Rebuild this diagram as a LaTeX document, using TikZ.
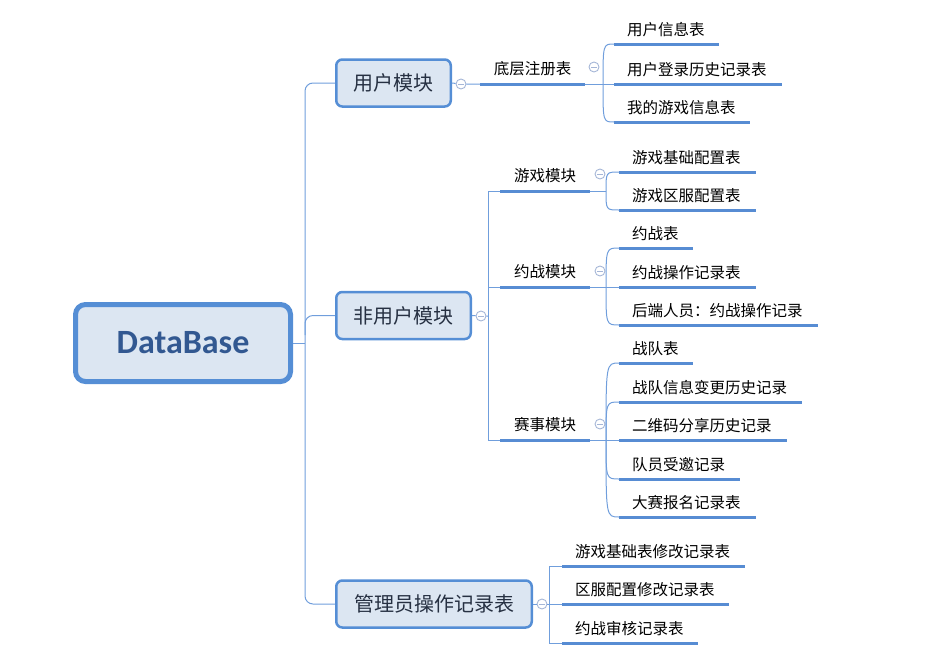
\documentclass[tikz,border=0pt]{standalone}
\usepackage{fontspec}
\setmainfont{Carlito}
\newfontfamily\cjk{Noto Sans CJK SC}
\usetikzlibrary{calc}
\definecolor{lineblue}{RGB}{112,158,220}
\definecolor{ulblue}{RGB}{87,140,211}
\definecolor{boxblue}{RGB}{85,142,213}
\definecolor{boxfill}{RGB}{220,230,242}
\definecolor{roottext}{RGB}{50,88,145}
\definecolor{ltext}{RGB}{38,48,66}
\definecolor{circ}{RGB}{165,182,215}
\tikzset{
  rootbox/.style={draw=boxblue, line width=5pt, fill=boxfill, rounded corners=10pt,
    minimum width=215pt, minimum height=77pt, inner sep=0pt,
    font=\fontsize{34}{40}\selectfont\bfseries, text=roottext},
  lonebox/.style={draw=boxblue, line width=2.5pt, fill=boxfill, rounded corners=6pt,
    inner sep=0pt, minimum height=47pt, font=\cjk\fontsize{20}{24}\selectfont, text=ltext},
  lab/.style={font=\cjk\fontsize{15.5}{18}\selectfont, inner sep=0pt, text=black},
  leaf/.style={lab, anchor=west},
  conn/.style={draw=lineblue, line width=1pt},
  uline/.style={draw=ulblue, line width=3pt},
  collapse/.style={circle, draw=circ, fill=white, line width=0.9pt, minimum size=10pt,
    inner sep=0pt, path picture={\draw[circ, line width=0.9pt]
      ([xshift=-2.6pt]path picture bounding box.center) --
      ([xshift=2.6pt]path picture bounding box.center);}}
}
\begin{document}
\begin{tikzpicture}[x=1pt,y=-1pt]
\useasboundingbox (0,0) rectangle (933,667);

% main nodes
\node[rootbox] (root) at (183,343) {DataBase};
\node[lonebox, minimum width=114.5pt] (u1) at (393.5,83) {用户模块};
\node[lonebox, minimum width=134.5pt] (u2) at (403.5,315.5) {非用户模块};
\node[lonebox, minimum width=195.5pt] (u3) at (434,604) {管理员操作记录表};

% root trunk
\coordinate (t0) at (305,343);
\coordinate (t1) at (305,83);
\coordinate (t2) at (305,335);
\coordinate (t3) at (305,604);
\draw[conn] (root.east) -- (t0);
\draw[conn, rounded corners=8pt] (u1.west) -- (t1) -- (t3) -- (u3.west);
\draw[conn, rounded corners=8pt] (t2) |- (u2.west);

% collapse markers
\node[collapse] (c1) at (461,84) {};
\node[collapse] (c2) at (481,316) {};
\node[collapse] (c3) at (542,604) {};
\node[collapse] (d0) at (594,67) {};
\node[collapse] (d1) at (600,174) {};
\node[collapse] (d2) at (600,271) {};
\node[collapse] (d3) at (600,424) {};

% second level labels with underlines
\foreach \n/\xa/\xb/\y/\cx/\t in {g0/480/585/84/532.5/底层注册表, g1/500/590/191/545/游戏模块,
    g2/500/590/287/545/约战模块, g3/500/590/440/545/赛事模块}{
  \coordinate (\n s) at (\xa,\y);
  \coordinate (\n e) at (\xb,\y);
  \draw[uline] (\n s) -- (\n e);
  \node[lab] (\n) at (\cx,\y-15.5) {\t};
}

% leaves
\foreach \n/\xa/\xb/\y/\t in {
    a1/614/719/44/用户信息表, a2/614/782/84/用户登录历史记录表, a3/614/750/122/我的游戏信息表,
    b1/619/756/172/游戏基础配置表, b2/619/756/210/游戏区服配置表,
    h1/619/693/248/约战表, h2/619/756/287/约战操作记录表, h3/619/818/325/后端人员：约战操作记录,
    s1/619/693/363/战队表, s2/619/802/402/战队信息变更历史记录, s3/619/787/440/二维码分享历史记录,
    s4/619/740/479/队员受邀记录, s5/619/756/517/大赛报名记录表,
    e1/562/745/566/游戏基础表修改记录表, e2/562/729/604/区服配置修改记录表, e3/562/698/643/约战审核记录表}{
  \coordinate (\n s) at (\xa,\y);
  \coordinate (\n e) at (\xb,\y);
  \draw[uline] (\n s) -- (\n e);
  \node[leaf] (\n) at (\xa+13,\y-14) {\t};
}

% user module branch
\coordinate (f0) at (603,84);
\draw[conn] (u1.east) -- (c1) -- (g0s);
\draw[conn] (g0e) -- (a2s);
\foreach \L in {a1s,a3s}{\draw[conn] (f0) .. controls (f0|-\L) .. (\L);}

% non-user module branch
\coordinate (k1) at (488,191);
\coordinate (k2) at (488,316);
\coordinate (k22) at (488,287);
\coordinate (k3) at (488,440);
\draw[conn] (u2.east) -- (c2) -- (k2);
\draw[conn] (g1s) -- (k1) -- (k3) -- (g3s);
\draw[conn] (k22) -- (g2s);

\coordinate (f1) at (606,191);
\draw[conn] (g1e) -- (f1);
\foreach \L in {b1s,b2s}{\draw[conn] (f1) .. controls (f1|-\L) .. (\L);}

\coordinate (f2) at (606,287);
\draw[conn] (g2e) -- (h2s);
\foreach \L in {h1s,h3s}{\draw[conn] (f2) .. controls (f2|-\L) .. (\L);}

\coordinate (f3) at (606,440);
\draw[conn] (g3e) -- (s3s);
\foreach \L in {s1s,s2s,s4s,s5s}{\draw[conn] (f3) .. controls (f3|-\L) .. (\L);}

% admin branch
\coordinate (m1) at (549,566);
\coordinate (m2) at (549,604);
\coordinate (m3) at (549,643);
\draw[conn] (u3.east) -- (c3) -- (m2);
\draw[conn] (e1s) -- (m1) -- (m3) -- (e3s);
\draw[conn] (m2) -- (e2s);
\end{tikzpicture}
\end{document}
